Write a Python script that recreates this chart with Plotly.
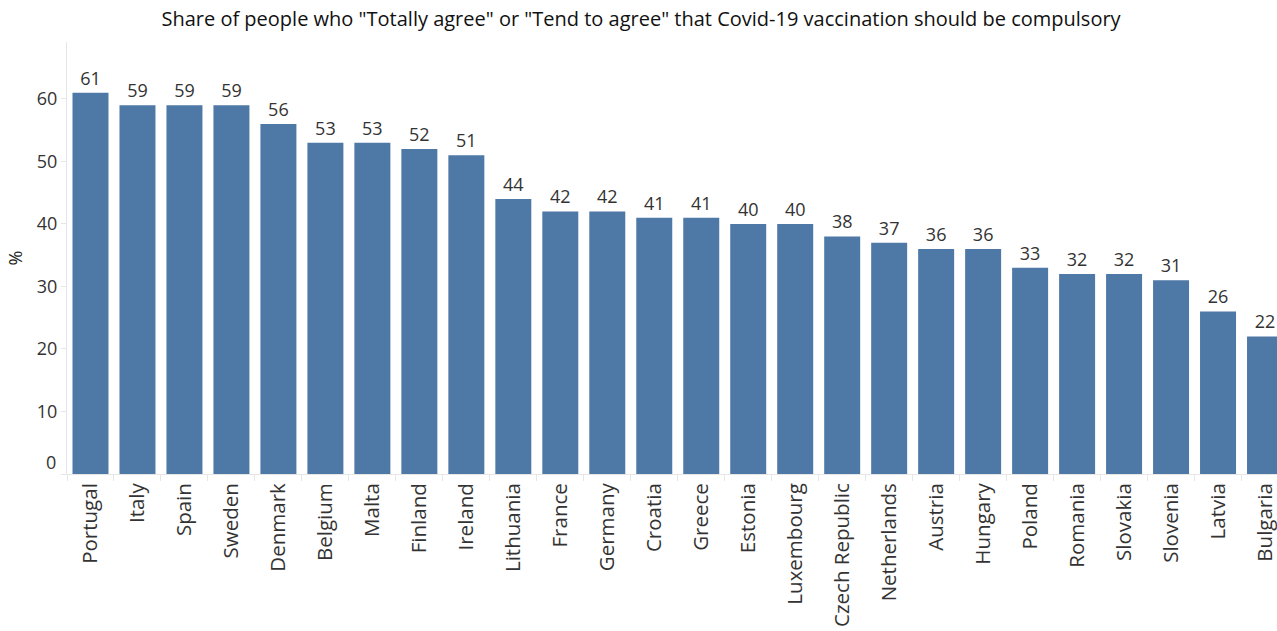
import plotly.graph_objects as go

countries = ["Portugal", "Italy", "Spain", "Sweden", "Denmark", "Belgium", "Malta", "Finland",
             "Ireland", "Lithuania", "France", "Germany", "Croatia", "Greece", "Estonia",
             "Luxembourg", "Czech Republic", "Netherlands", "Austria", "Hungary", "Poland",
             "Romania", "Slovakia", "Slovenia", "Latvia", "Bulgaria"]
values = [61, 59, 59, 59, 56, 53, 53, 52, 51, 44, 42, 42, 41, 41, 40, 40, 38, 37, 36, 36,
          33, 32, 32, 31, 26, 22]
y_ticks = [0, 10, 20, 30, 40, 50, 60]

FONT = "'Open Sans', sans-serif"

fig = go.Figure(go.Bar(
    x=countries, y=values,
    marker=dict(color="#4e79a7", line=dict(width=0)),
    text=[str(v) for v in values], textposition="outside",
    textfont=dict(size=18, color="#333333", family=FONT),
    cliponaxis=False,
))

fig.update_layout(
    width=1277, height=631,
    margin=dict(l=67, r=0, t=42, b=157),
    plot_bgcolor="white", paper_bgcolor="white",
    bargap=0.234,
    showlegend=False,
    title=dict(text='Share of people who "Totally agree" or "Tend to agree" that Covid-19 vaccination should be compulsory',
               x=0.502, xref="container", xanchor="center", y=0.97, yref="container", yanchor="middle",
               font=dict(size=20, color="#111111", family=FONT)),
    font=dict(family=FONT, color="#333333"),
)
# y tick "0" is drawn slightly raised, as in the reference
fig.add_annotation(x=0, xref="paper", y=y_ticks[0], yref="y", text=str(y_ticks[0]),
                   showarrow=False, xanchor="right", xshift=-9, yshift=12,
                   font=dict(size=18, color="#333333", family=FONT))
fig.update_xaxes(
    range=[-0.5, 25.255], tickangle=-90,
    tickfont=dict(size=20.5, color="#333333", family=FONT),
    showline=True, linecolor="#e6e6e6", linewidth=1,
    ticks="outside", tickson="boundaries", ticklen=6, tickcolor="#e6e6e6",
    showgrid=False,
)
fig.update_yaxes(
    range=[0, 69.1], tickvals=y_ticks, ticktext=["" if t == 0 else str(t) for t in y_ticks],
    tickfont=dict(size=18, color="#333333", family=FONT),
    showline=True, linecolor="#e6e6e6", linewidth=1,
    ticks="outside", ticklen=5, tickcolor="#e6e6e6",
    showgrid=False, zeroline=False,
    title=dict(text="%", font=dict(size=18, color="#222222", family=FONT), standoff=9),
)

fig.write_html("out.html")
